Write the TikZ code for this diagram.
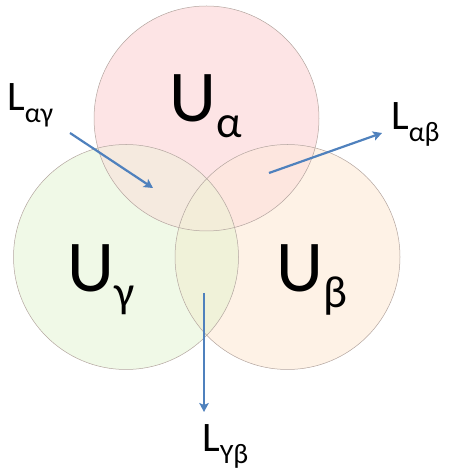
\documentclass[tikz,border=0pt]{standalone}
\usepackage{fontspec}
\setmainfont{Carlito}
\usetikzlibrary{arrows.meta}
\definecolor{pinkc}{RGB}{253,228,229}
\definecolor{greenc}{RGB}{240,249,231}
\definecolor{peachc}{RGB}{254,242,230}
\definecolor{pgc}{RGB}{245,234,223}
\definecolor{ppc}{RGB}{253,230,223}
\definecolor{gpc}{RGB}{240,242,217}
\definecolor{allc}{RGB}{243,237,217}
\definecolor{rimc}{RGB}{180,166,160}
\definecolor{arrowc}{RGB}{79,129,189}
\newcommand{\mylab}[5]{{\fontsize{#3}{#3}\selectfont #1}\raisebox{-#5}{\fontsize{#4}{#4}\selectfont #2}}
\newcommand{\cA}{(206.5,354.5) circle (112.5)}
\newcommand{\cG}{(126,216) circle (112.5)}
\newcommand{\cB}{(287.5,216) circle (112.5)}
\tikzset{
  rim/.style={draw=rimc, line width=0.5pt},
  lbl/.style={anchor=base west, inner sep=0pt, text=black},
  link/.style={draw=arrowc, line width=2.2pt, -{Stealth[length=9pt,width=9.5pt,inset=2pt]}},
}
\begin{document}
\begin{tikzpicture}[x=1pt,y=1pt]
\useasboundingbox (0,0) rectangle (451,473);
% circle fills
\fill[peachc] \cB;
\fill[greenc] \cG;
\fill[pinkc] \cA;
\begin{scope}\clip \cA; \fill[pgc] \cG; \end{scope}
\begin{scope}\clip \cA; \fill[ppc] \cB; \end{scope}
\begin{scope}\clip \cG; \fill[gpc] \cB; \end{scope}
\begin{scope}\clip \cA; \clip \cG; \fill[allc] \cB; \end{scope}
% rims
\draw[rim] \cB;
\draw[rim] \cG;
\draw[rim] \cA;
% labels
\node[lbl] (ua) at (169,351) {\mylab{U}{α}{73}{45}{16pt}};
\node[lbl] (ug) at (67,181) {\mylab{U}{γ}{73}{45}{16pt}};
\node[lbl] (ub) at (276,181) {\mylab{U}{β}{73}{45}{16pt}};
\node[lbl] (lag) at (7,362) {\mylab{L}{αγ}{42}{28}{12pt}};
\node[lbl] (lab) at (391,343) {\mylab{L}{αβ}{42}{28}{12pt}};
\node[lbl] (lgb) at (202,21) {\mylab{L}{Υβ}{42}{28}{12pt}};
% arrow ends
\coordinate (a1s) at (70,340);
\coordinate (a1e) at (153,285);
\coordinate (a2s) at (269,300);
\coordinate (a2e) at (382,340);
\coordinate (a3s) at (204,180);
\coordinate (a3e) at (204,61);
\draw[link] (a1s) -- (a1e);
\draw[link] (a2s) -- (a2e);
\draw[link] (a3s) -- (a3e);
\end{tikzpicture}
\end{document}
